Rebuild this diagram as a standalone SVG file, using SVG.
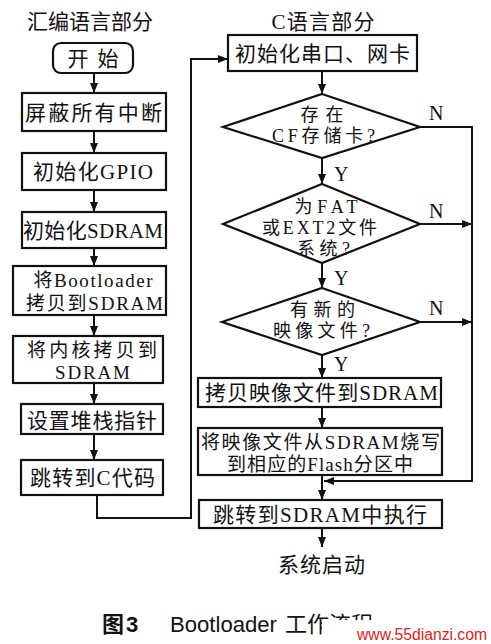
<svg xmlns="http://www.w3.org/2000/svg" width="491" height="644" viewBox="0 0 491 644">
<style>
.bg{fill:#ffffff}
.box{fill:#ffffff;stroke:#111;stroke-width:2.2}
.ln{fill:none;stroke:#111;stroke-width:2}
.t{font-family:"Liberation Serif","Noto Sans CJK SC",serif;font-size:21px;fill:#111;text-anchor:middle}
.t2{font-family:"Liberation Serif","Noto Sans CJK SC",serif;font-size:19px;fill:#111;text-anchor:middle}
.d{font-family:"Liberation Serif","Noto Sans CJK SC",serif;font-size:18px;fill:#111;text-anchor:middle}
.yn{font-family:"Liberation Serif",serif;font-size:20px;fill:#111}
.cap{font-family:"Liberation Sans","Noto Sans CJK SC",sans-serif;font-size:22px;fill:#111}
.wm{font-family:"Liberation Sans",sans-serif;font-size:16px;fill:#e0231c}
</style>
<defs>
<marker id="ah" viewBox="0 0 10 8" refX="10" refY="4" markerWidth="10" markerHeight="8" markerUnits="userSpaceOnUse" orient="auto">
<path d="M0,0 L10,4 L0,8 z" fill="#111"/>
</marker>
</defs>
<rect class="bg" x="0" y="0" width="491" height="644"/>

<text class="t" x="90" y="29" textLength="126" lengthAdjust="spacing">汇编语言部分</text>
<text class="t" x="323" y="29" textLength="103" lengthAdjust="spacing">C语言部分</text>

<g id="connectors">
<line class="ln" x1="94" y1="73" x2="94" y2="93" marker-end="url(#ah)"/>
<line class="ln" x1="94" y1="131" x2="94" y2="153" marker-end="url(#ah)"/>
<line class="ln" x1="94" y1="190" x2="94" y2="212" marker-end="url(#ah)"/>
<line class="ln" x1="94" y1="248" x2="94" y2="266" marker-end="url(#ah)"/>
<line class="ln" x1="94" y1="315" x2="94" y2="336" marker-end="url(#ah)"/>
<line class="ln" x1="94" y1="383" x2="94" y2="404" marker-end="url(#ah)"/>
<line class="ln" x1="94" y1="434" x2="94" y2="460" marker-end="url(#ah)"/>
<polyline class="ln" points="97,495 97,518 191,518 191,59 228,59" marker-end="url(#ah)"/>
<line class="ln" x1="322" y1="71" x2="322" y2="94" marker-end="url(#ah)"/>
<line class="ln" x1="322" y1="158" x2="322" y2="184" marker-end="url(#ah)"/>
<line class="ln" x1="322" y1="263" x2="322" y2="288" marker-end="url(#ah)"/>
<line class="ln" x1="322" y1="355" x2="322" y2="378" marker-end="url(#ah)"/>
<line class="ln" x1="322" y1="407" x2="322" y2="428" marker-end="url(#ah)"/>
<line class="ln" x1="322" y1="475" x2="322" y2="500" marker-end="url(#ah)"/>
<line class="ln" x1="322" y1="528" x2="322" y2="547" marker-end="url(#ah)"/>
<polyline class="ln" points="420,127 472,127 472,481 324,481" marker-end="url(#ah)"/>
<line class="ln" x1="420" y1="224" x2="472" y2="224" marker-end="url(#ah)"/>
<line class="ln" x1="420" y1="322" x2="472" y2="322" marker-end="url(#ah)"/>
<text class="yn" x="429" y="120">N</text>
<text class="yn" x="429" y="218">N</text>
<text class="yn" x="429" y="315">N</text>
<text class="yn" x="334" y="181">Y</text>
<text class="yn" x="334" y="285">Y</text>
<text class="yn" x="334" y="371">Y</text>
</g>

<g id="start">
<rect class="box" x="53" y="43" width="80" height="30" rx="8"/>
<text class="t" x="93" y="66" textLength="51" lengthAdjust="spacing">开 始</text>
</g>
<g id="mask-int">
<rect class="box" x="22" y="93" width="144" height="38"/>
<text class="t" x="93.5" y="120" textLength="137" lengthAdjust="spacing">屏蔽所有中断</text>
</g>
<g id="init-gpio">
<rect class="box" x="22" y="153" width="144" height="37"/>
<text class="t" x="93" y="179" textLength="120" lengthAdjust="spacing">初始化GPIO</text>
</g>
<g id="init-sdram">
<rect class="box" x="22" y="212" width="144" height="36"/>
<text class="t" x="93" y="238" textLength="140" lengthAdjust="spacing">初始化SDRAM</text>
</g>
<g id="copy-bootloader">
<rect class="box" x="13" y="266" width="153" height="49"/>
<text class="t2" x="93" y="287" textLength="119" lengthAdjust="spacing">将Bootloader</text>
<text class="t2" x="94.5" y="310" textLength="137" lengthAdjust="spacing">拷贝到SDRAM</text>
</g>
<g id="copy-kernel">
<rect class="box" x="13" y="336" width="150" height="47"/>
<text class="t2" x="92" y="357" textLength="130" lengthAdjust="spacing">将内核拷贝到</text>
<text class="t2" x="92.5" y="379" textLength="75" lengthAdjust="spacing">SDRAM</text>
</g>
<g id="set-stack">
<rect class="box" x="21" y="404" width="142" height="30"/>
<text class="t" x="92" y="428" textLength="130" lengthAdjust="spacing">设置堆栈指针</text>
</g>
<g id="jump-c">
<rect class="box" x="21" y="460" width="142" height="35"/>
<text class="t" x="92.5" y="485" textLength="125" lengthAdjust="spacing">跳转到C代码</text>
</g>

<g id="init-serial">
<rect class="box" x="228" y="35" width="189" height="36"/>
<text class="t" x="322.5" y="61" textLength="175" lengthAdjust="spacing">初始化串口、网卡</text>
</g>
<g id="cf-card">
<polygon class="box" points="322,94 420,127 322,158 223,127"/>
<text class="d" x="322" y="121" textLength="43" lengthAdjust="spacing">存在</text>
<text class="d" x="323.5" y="142" textLength="103" lengthAdjust="spacing">CF存储卡?</text>
</g>
<g id="fs-check">
<polygon class="box" points="322,184 420,224 322,263 223,224"/>
<text class="d" x="326" y="213" textLength="63" lengthAdjust="spacing">为FAT</text>
<text class="d" x="319.5" y="234" textLength="115" lengthAdjust="spacing">或EXT2文件</text>
<text class="d" x="323.5" y="255" textLength="53" lengthAdjust="spacing">系统?</text>
</g>
<g id="new-image">
<polygon class="box" points="322,288 420,322 322,355 222,322"/>
<text class="d" x="322.5" y="316" textLength="65" lengthAdjust="spacing">有新的</text>
<text class="d" x="321.5" y="337" textLength="97" lengthAdjust="spacing">映像文件?</text>
</g>
<g id="copy-image">
<rect class="box" x="198" y="378" width="243" height="29"/>
<text class="t" x="321.5" y="400" textLength="233" lengthAdjust="spacing">拷贝映像文件到SDRAM</text>
</g>
<g id="flash-write">
<rect class="box" x="198" y="428" width="244" height="47"/>
<text class="t2" x="320.5" y="449" textLength="239" lengthAdjust="spacing">将映像文件从SDRAM烧写</text>
<text class="t2" x="320" y="471" textLength="186" lengthAdjust="spacing">到相应的Flash分区中</text>
</g>
<g id="jump-sdram">
<rect class="box" x="199" y="500" width="243" height="28"/>
<text class="t" x="320" y="522" textLength="214" lengthAdjust="spacing">跳转到SDRAM中执行</text>
</g>
<g id="boot">
<text class="t" x="321.5" y="572" textLength="87" lengthAdjust="spacing">系统启动</text>
</g>

<g id="caption">
<text class="cap" x="102" y="632" font-weight="bold" font-size="18">图</text>
<text class="cap" x="126" y="632" font-weight="bold" font-size="20">3</text>
<text class="cap" x="170" y="632" textLength="107" lengthAdjust="spacingAndGlyphs">Bootloader</text>
<text class="cap" x="285" y="632" font-size="19">工作流程</text>
<rect class="bg" x="322" y="620" width="169" height="24"/>
<text class="wm" x="357" y="640" textLength="130" lengthAdjust="spacingAndGlyphs">www.55dianzi.com</text>
</g>
</svg>
